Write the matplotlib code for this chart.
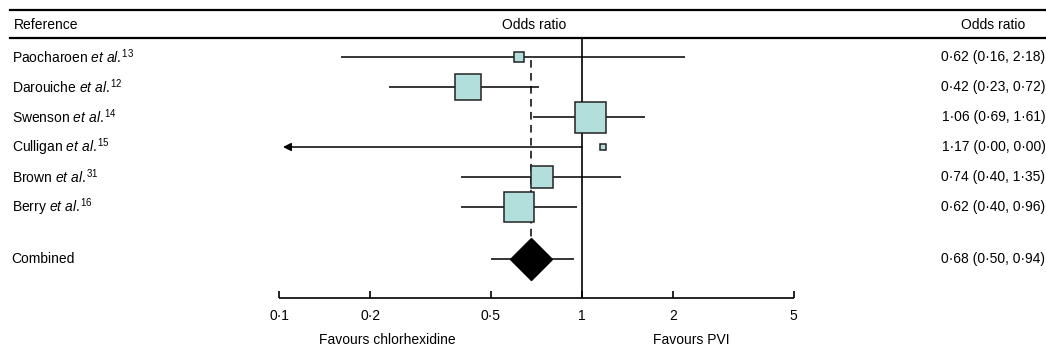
import numpy as np
import matplotlib
matplotlib.use("Agg")
import matplotlib.pyplot as plt
from matplotlib.transforms import blended_transform_factory

# ---------------- data ----------------
studies = ["Paocharoen", "Darouiche", "Swenson", "Culligan", "Brown", "Berry"]
refs = ["13", "12", "14", "15", "31", "16"]
odds = [0.62, 0.42, 1.06, 1.17, 0.74, 0.62]
ci_low = [0.16, 0.23, 0.69, 0.00, 0.40, 0.40]
ci_high = [2.18, 0.72, 1.61, 0.00, 1.35, 0.96]
weights = [3.2, 21.5, 30.5, 0.8, 15.4, 28.6]   # estimated study weights (%)
combined_label = "Combined"
combined_or = 0.68
combined_low = 0.50
combined_high = 0.94
tick_values = [0.1, 0.2, 0.5, 1, 2, 5]
tick_labels = ["0·1", "0·2", "0·5", "1", "2", "5"]

# ---------------- style ----------------
plt.rcParams["font.family"] = ["Liberation Sans", "DejaVu Sans"]
plt.rcParams["mathtext.fontset"] = "custom"
plt.rcParams["mathtext.rm"] = "Liberation Sans"
plt.rcParams["mathtext.it"] = "Liberation Sans:italic"
FS = 10
BOX = "#b2dfdc"
EDGE = "#222222"

fig = plt.figure(figsize=(10.46, 3.54), dpi=100)
ax = fig.add_axes([0, 0, 1, 1])
ax.set_xscale("log")
# map pixel 279 -> 0.1, 303 px per decade
px_dec = 303.0
ax.set_xlim(10 ** (-1 - 279 / px_dec), 10 ** (-1 + (1046 - 279) / px_dec))
ax.set_ylim(297 / 30, -57 / 30)
ax.axis("off")

tr_ax_x = blended_transform_factory(ax.transAxes, ax.transData)

rows = np.arange(len(studies))
comb_y = 6.73
header_y = -1.07
top_line_y = -1.57
header_line_y = -0.62
axis_y = 8.03
ticklab_y = 8.62
favours_y = 9.42

# header lines
ax.plot([0.01, 1.0], [top_line_y, top_line_y], transform=tr_ax_x, color="black", lw=1.6, clip_on=False)
ax.plot([0.01, 1.0], [header_line_y, header_line_y], transform=tr_ax_x, color="black", lw=1.6, clip_on=False)
ax.text(0.013, header_y, "Reference", transform=tr_ax_x, fontsize=FS, va="center", ha="left")
ax.text(0.511, header_y, "Odds ratio", transform=tr_ax_x, fontsize=FS, va="center", ha="center")
ax.text(0.949, header_y, "Odds ratio", transform=tr_ax_x, fontsize=FS, va="center", ha="center")

# reference line at 1
ax.vlines(1, header_line_y, axis_y, color="black", lw=1.2, zorder=2)
# dashed line at combined estimate
ax.vlines(combined_or, rows[0] + 0.1, comb_y, color="black", lw=1.1,
          linestyles=(0, (5, 3.5)), zorder=1)

k = 31 / np.sqrt(max(weights)) * 0.72  # points per sqrt(weight)
for i, (name, r, o, lo, hi, w) in enumerate(zip(studies, refs, odds, ci_low, ci_high, weights)):
    y = rows[i]
    if lo <= 0 and hi <= 0:
        ax.annotate("", xy=(tick_values[0] * 1.03, y), xytext=(1, y),
                    arrowprops=dict(arrowstyle="-|>", color="black", lw=1.1,
                                    mutation_scale=12, shrinkA=0, shrinkB=0), zorder=2)
    else:
        ax.hlines(y, lo, hi, color="black", lw=1.1, zorder=2)
    ax.plot(o, y, marker="s", ms=max(k * np.sqrt(w), 3.2), mfc=BOX, mec=EDGE, mew=1.1, zorder=3)
    ax.text(0.011, y, name + r" $\mathit{et\ al.}^{\!\mathrm{" + r + "}}$", transform=tr_ax_x,
            fontsize=FS, va="center", ha="left")
    ax.text(0.9995, y, f"{o:.2f} ({lo:.2f}, {hi:.2f})".replace(".", "·"), transform=tr_ax_x,
            fontsize=FS, va="center", ha="right")

# combined
ax.hlines(comb_y, combined_low, combined_high, color="black", lw=1.1, zorder=2)
ax.plot(combined_or, comb_y, marker="D", ms=21, mfc="black", mec="black", zorder=4)
ax.text(0.011, comb_y, combined_label, transform=tr_ax_x, fontsize=FS, va="center", ha="left")
ax.text(0.9995, comb_y, f"{combined_or:.2f} ({combined_low:.2f}, {combined_high:.2f})".replace(".", "·"),
        transform=tr_ax_x, fontsize=FS, va="center", ha="right")

# x axis drawn manually
ax.hlines(axis_y, tick_values[0], tick_values[-1], color="black", lw=1.2)
ax.vlines(tick_values, axis_y - 0.22, axis_y, color="black", lw=1.2)
for v, lab in zip(tick_values, tick_labels):
    ax.text(v, ticklab_y, lab, fontsize=FS, va="center", ha="center")
ax.text(0.37, favours_y, "Favours chlorhexidine", transform=tr_ax_x, fontsize=FS, va="center", ha="center")
ax.text(0.661, favours_y, "Favours PVI", transform=tr_ax_x, fontsize=FS, va="center", ha="center")

fig.savefig("out.png", dpi=100)
